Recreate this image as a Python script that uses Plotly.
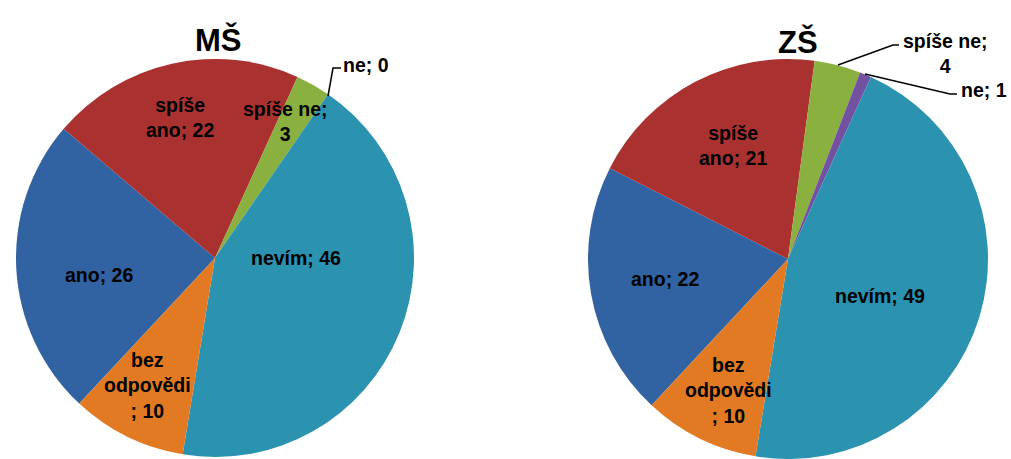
import plotly.graph_objects as go

# ---------------- data ----------------
categories = ["ano", "spíše ano", "spíše ne", "ne", "nevím", "bez odpovědi"]
ms_values = [26, 22, 3, 0, 46, 10]
zs_values = [22, 21, 4, 1, 49, 10]
titles = ["MŠ", "ZŠ"]

# label texts (category; value), with the manual line breaks used in the chart
ms_label_text = ["ano; 26", "spíše<br>ano; 22", "spíše ne;<br>3", "ne; 0",
                 "nevím; 46", "bez<br>odpovědi<br>; 10"]
zs_label_text = ["ano; 22", "spíše<br>ano; 21", "spíše ne;<br>4", "ne; 1",
                 "nevím; 49", "bez<br>odpovědi<br>; 10"]

# ---------------- style ----------------
colors = ["#3162A2", "#A93230", "#8AB040", "#7252A0", "#2B92B0", "#E27A24"]
W, H = 1011, 459
FONT = "Liberation Sans, Arial, sans-serif"

# label anchor positions in pixels (layout only)
ms_label_pos = [(99, 275), (180, 117), (285, 121), (366, 65), (296, 258), (147, 385)]
zs_label_pos = [(665, 279), (733, 145), (945, 53), (984, 90), (880, 296), (728, 390)]

# pie placement (pixels)
ms_box = (16, 414, 59, 457)
zs_box = (588, 988, 59, 459)


def domain(box):
    x0, x1, y0, y1 = box
    return dict(x=[x0 / W, x1 / W], y=[max(0, (H - y1) / H), (H - y0) / H])


fig = go.Figure()
for vals, box in ((ms_values, ms_box), (zs_values, zs_box)):
    fig.add_trace(go.Pie(
        labels=categories, values=vals, sort=False, direction="clockwise",
        rotation=223, marker=dict(colors=colors, line=dict(width=0)),
        textinfo="none", hoverinfo="label+value", showlegend=False,
        domain=domain(box),
    ))

# invisible pixel-coordinate axes for labels and leader lines
fig.update_xaxes(range=[0, W], visible=False, fixedrange=True)
fig.update_yaxes(range=[H, 0], visible=False, fixedrange=True)

annotations = []
for texts, pos in ((ms_label_text, ms_label_pos), (zs_label_text, zs_label_pos)):
    for t, (px, py) in zip(texts, pos):
        annotations.append(dict(x=px, y=py, xref="x", yref="y", text=t,
                                showarrow=False, align="center",
                                font=dict(family=FONT, size=19.5, color="#000000", weight="bold")))

for t, px, py in zip(titles, (218, 798), (40, 42)):
    annotations.append(dict(x=px, y=py, xref="x", yref="y", text=t, showarrow=False,
                            font=dict(family=FONT, size=31, color="#000000", weight="bold")))

shapes = [
    dict(type="path", path="M 328 96 L 333 68 L 341 68", xref="x", yref="y",
         line=dict(color="#000000", width=1.5)),
    dict(type="path", path="M 838 65 L 893 45 L 899 45", xref="x", yref="y",
         line=dict(color="#000000", width=1.5)),
    dict(type="path", path="M 865 74 L 950 94 L 957 94", xref="x", yref="y",
         line=dict(color="#000000", width=1.5)),
]

fig.update_layout(
    width=W, height=H, margin=dict(l=0, r=0, t=0, b=0),
    paper_bgcolor="#FFFFFF", plot_bgcolor="rgba(0,0,0,0)",
    annotations=annotations, shapes=shapes,
    font=dict(family=FONT),
)

fig.write_html("out.html", config={"displayModeBar": False},
               post_script="document.body.style.margin='0';document.body.style.overflow='hidden';")
